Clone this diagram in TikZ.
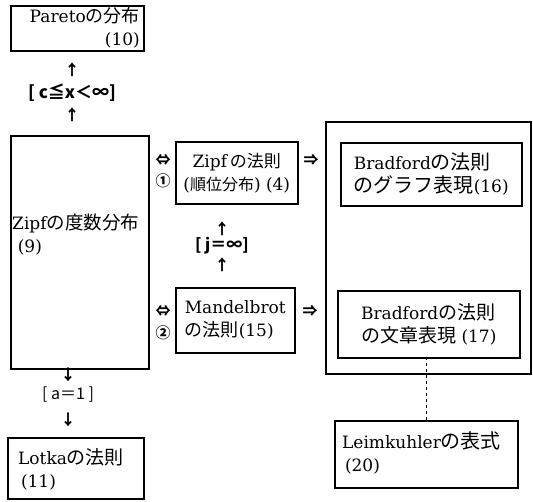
\documentclass[tikz,border=0pt]{standalone}
\usepackage{fontspec}
\setmainfont{DejaVu Serif}
\newfontfamily\jp{Noto Sans CJK JP}
\begin{document}
\begin{tikzpicture}[x=1pt,y=-1pt,
  box/.style={draw, line width=1.5pt, inner sep=0pt, anchor=north west},
  txt/.style={inner sep=0pt, font=\fontsize{17}{23}\selectfont},
  sym/.style={inner sep=0pt, font=\jp\bfseries\fontsize{15}{18}\selectfont}]
\useasboundingbox (0,0) rectangle (533,501);
% boxes
\node[box, minimum width=133pt, minimum height=45pt] (pareto) at (10,5) {};
\node[txt, align=right, anchor=north east] (paretot) at (140,7) {Pareto{\jp\fontsize{18}{23}\selectfont の分布}\\(10)};
\node[box, minimum width=138pt, minimum height=233pt] (zipfd) at (10,135) {};
\node[txt, align=left, anchor=west] (zipfdt) at (12,235) {Zipf{\jp\fontsize{18.5}{23}\selectfont の度数分布}\\\,\,(9)};
\node[box, minimum width=122pt, minimum height=62pt] (zipfl) at (175,141) {};
\node[txt, align=center] (zipflt) at (zipfl.center) {Zipf\,{\jp\fontsize{17}{23}\selectfont の法則}\\({\jp\fontsize{16}{23}\selectfont 順位分布}) (4)};
\node[box, minimum width=119pt, minimum height=65pt] (mand) at (175,287) {};
\node[txt, align=left] (mandt) at (mand.center) {Mandelbrot\\{\jp\fontsize{18}{23}\selectfont の法則}(15)};
\node[box, line width=2pt, minimum width=205pt, minimum height=252pt] (big) at (325,121) {};
\node[box, minimum width=181pt, minimum height=63pt] (brg) at (340,142) {};
\node[txt, align=left] (brgt) at (brg.center) {Bradford{\jp\fontsize{20}{23}\selectfont の法則}\\{\jp\fontsize{20}{23}\selectfont のグラフ表現}(16)};
\node[box, minimum width=182pt, minimum height=67pt] (brt) at (337,290) {};
\node[txt, align=left] (brtt) at (brt.center) {Bradford{\jp\fontsize{19}{23}\selectfont の法則}\\{\jp\fontsize{19}{23}\selectfont の文章表現} (17)};
\node[box, minimum width=183pt, minimum height=67pt] (leim) at (334,420) {};
\node[txt, align=left, anchor=west] (leimt) at (342,453) {Leimkuhler{\jp\fontsize{20}{23}\selectfont の表式}\\\,(20)};
\node[box, minimum width=136pt, minimum height=61pt] (lotka) at (7,437) {};
\node[txt, align=left, anchor=west] (lotkat) at (18,469) {Lotka{\jp\fontsize{19}{23}\selectfont の法則}\\\,(11)};
% dashed connector
\coordinate (dtop) at (426,357);
\draw[dashed, line width=1pt] (dtop) -- (dtop |- leim.north);
% glyph arrows and labels
\node[sym] (a1) at (72,70) {↑};
\node[sym, font=\jp\bfseries\fontsize{17}{18}\selectfont] (l1) at (72,93) {[ c≦x＜∞]};
\node[sym] (a2) at (72,115) {↑};
\node[sym] (e1) at (163,160) {⇔};
\node[sym] (n1) at (163,181) {①};
\node[sym] (e2) at (163,311) {⇔};
\node[sym] (n2) at (163,333) {②};
\node[sym] (r1) at (311,160) {⇒};
\node[sym] (r2) at (310,311) {⇒};
\node[sym] (a3) at (222,229) {↑};
\node[sym, font=\jp\bfseries\fontsize{16}{18}\selectfont] (l2) at (222,246) {[ j＝∞]};
\node[sym] (a4) at (222,265) {↑};
\node[sym] (a5) at (68,375) {↓};
\node[sym, font=\jp\fontsize{16}{18}\selectfont] (l3) at (68,395) {[ a＝1 ]};
\node[sym] (a6) at (68,420) {↓};
\end{tikzpicture}
\end{document}
